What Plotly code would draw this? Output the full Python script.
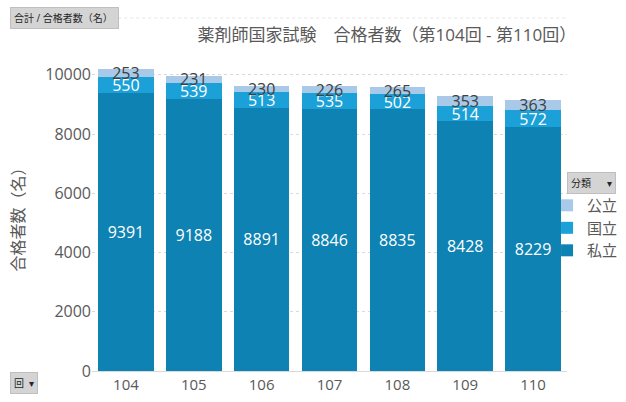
import plotly.graph_objects as go

kai = ["104", "105", "106", "107", "108", "109", "110"]
shiritsu = [9391, 9188, 8891, 8846, 8835, 8428, 8229]
kokuritsu = [550, 539, 513, 535, 502, 514, 572]
kouritsu = [253, 231, 230, 226, 265, 353, 363]
yticks = [0, 2000, 4000, 6000, 8000, 10000]

font_fam = "Open Sans, Noto Sans CJK JP, sans-serif"
gray = "#595959"

fig = go.Figure()
fig.add_trace(go.Bar(x=kai, y=shiritsu, name="私立", marker_color="#0E82B2",
                     text=shiritsu, textposition="inside", insidetextanchor="middle",
                     textfont=dict(color="white", size=16)))
fig.add_trace(go.Bar(x=kai, y=kokuritsu, name="国立", marker_color="#1BA0D7",
                     text=kokuritsu, textposition="inside", insidetextanchor="middle",
                     textfont=dict(color="white", size=16)))
fig.add_trace(go.Bar(x=kai, y=kouritsu, name="公立", marker_color="#A8C9E7",
                     text=kouritsu, textposition="inside", insidetextanchor="middle",
                     textfont=dict(color="#404040", size=16)))

fig.update_traces(marker_line_width=0, constraintext="none", cliponaxis=False)
fig.update_layout(
    barmode="stack",
    bargap=0.18,
    width=626, height=402,
    margin=dict(l=92, r=59, t=60, b=31, autoexpand=False),
    paper_bgcolor="white", plot_bgcolor="white",
    font=dict(family=font_fam, color=gray, size=14),
    uniformtext=dict(minsize=16, mode="show"),
    title=dict(text="薬剤師国家試験　合格者数（第104回 - 第110回）",
               x=0.618, xanchor="center", y=0.913, yanchor="middle",
               font=dict(size=17, color=gray)),
    showlegend=True,
    legend=dict(traceorder="reversed", x=0.958, xanchor="left", y=0.585, yanchor="top",
                bgcolor="rgba(0,0,0,0)",
                font=dict(size=15, color=gray, family="Noto Sans CJK JP"),
                itemwidth=30, tracegroupgap=0, itemsizing="constant"),
)
fig.update_xaxes(showline=True, linecolor="#D9D9D9", linewidth=1, ticks="",
                 tickfont=dict(size=15, color=gray))
fig.update_yaxes(range=[0, 10500], tickvals=yticks, ticktext=[str(v) for v in yticks],
                 showgrid=True, gridcolor="#D9D9D9", griddash="dot", zeroline=False,
                 tickfont=dict(size=16, color=gray), ticksuffix="   ",
                 title=dict(text="合格者数（名）", font=dict(size=16, color=gray), standoff=16))

# field buttons of the pivot chart
btn = dict(showarrow=False, bgcolor="#D4D4D4", bordercolor="#BFBFBF", borderwidth=1,
           font=dict(size=10, color="#262626"), xref="paper", yref="paper",
           xanchor="left", yanchor="middle", borderpad=3)
fig.add_annotation(text="合計 / 合格者数（名） ", x=-0.172, y=1.135, **btn)
fig.add_annotation(text="分類      ▾", x=1.0, y=0.605, **btn)
fig.add_annotation(text="回  ▾", x=-0.172, y=-0.039, **btn)
fig.add_shape(type="line", xref="paper", yref="paper", x0=0.03, x1=1.0, y0=1.135, y1=1.135,
              line=dict(color="#E5E5E5", width=1, dash="dot"))

fig.write_html("out.html", config={"displayModeBar": False},
               post_script="document.body.style.margin='0';")
